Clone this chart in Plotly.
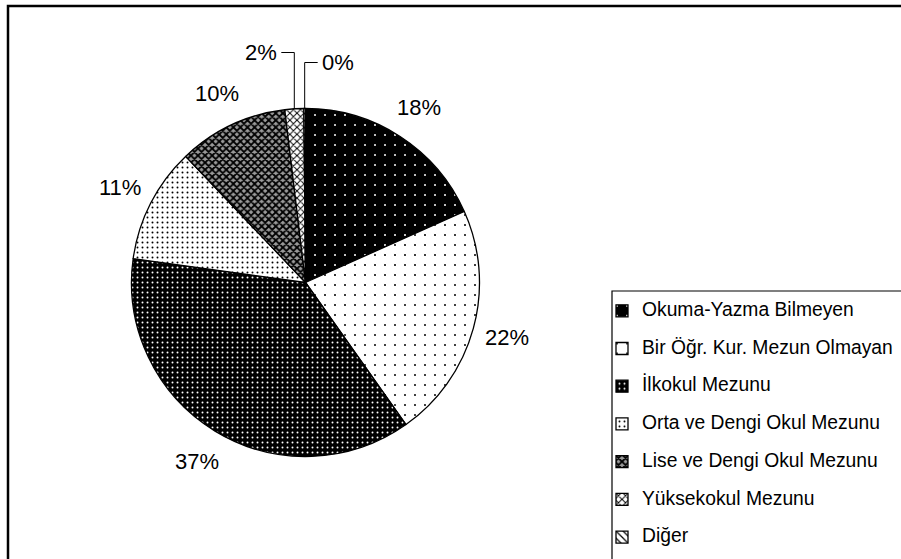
import math
import plotly.graph_objects as go

# ---------------- data ----------------
categories = [
    "Okuma-Yazma Bilmeyen",
    "Bir Öğr. Kur. Mezun Olmayan",
    "İlkokul Mezunu",
    "Orta ve Dengi Okul Mezunu",
    "Lise ve Dengi Okul Mezunu",
    "Yüksekokul Mezunu",
    "Diğer",
]
values = [18.3, 21.9, 37.0, 10.7, 10.2, 1.75, 0.15]

# ---------------- styles ----------------
pat_shape = [".", ".", ".", ".", "x", "x", "\\"]
pat_fg = ["white", "black", "white", "black", "black", "black", "black"]
pat_bg = ["black", "white", "black", "white", "#9a9a9a", "white", "white"]
pat_size = [10, 10, 5, 5, 5, 5, 5]
pat_solid = [0.03, 0.03, 0.12, 0.12, 0.6, 0.35, 0.25]

W, H = 901, 559
CX, CY, R = 305.5, 282.5, 174.0      # pie geometry in pixels
LABEL_GAP = 35                        # distance of labels outside the rim
SMALL = 0.03                          # slices below this get leader lines
ELBOW_RISE = [56, 46]                 # leader heights above the pie for small slices
FONT = "Liberation Sans, Arial, sans-serif"


def px(x):
    return x / W


def py(y):
    return 1 - y / H


total = sum(values)
shares = [v / total for v in values]
pct_text = [f"{round(s * 100)}%" for s in shares]

legend_labels = [f'<span style="font-size:19.3px">{c}</span><br> ' for c in categories]

fig = go.Figure()
fig.add_trace(go.Pie(
    labels=legend_labels,
    values=values,
    sort=False,
    direction="clockwise",
    rotation=0,
    textinfo="none",
    hoverinfo="skip",
    domain=dict(x=[px(CX - R), px(CX + R)], y=[py(CY + R), py(CY - R)]),
    marker=dict(
        line=dict(color="black", width=1.3),
        pattern=dict(shape=pat_shape, fgcolor=pat_fg, bgcolor=pat_bg,
                     size=pat_size, solidity=pat_solid, fillmode="replace"),
    ),
))

annotations = []
shapes = []
cum = 0.0
k_small = 0
for i, s in enumerate(shares):
    theta = 2 * math.pi * (cum + s / 2)
    cum += s
    if s >= SMALL:
        d = R + LABEL_GAP
        x = CX + d * math.sin(theta)
        y = CY - d * math.cos(theta)
        annotations.append(dict(x=px(x), y=py(y), xref="paper", yref="paper",
                                text=pct_text[i], showarrow=False,
                                xanchor="center", yanchor="middle",
                                font=dict(family=FONT, size=22, color="black")))
    else:
        ex = CX + R * math.sin(theta)
        ey = CY - R * math.cos(theta)
        top = CY - R - ELBOW_RISE[min(k_small, len(ELBOW_RISE) - 1)]
        side = -1 if k_small == 0 else 1
        hx = ex + side * 13
        shapes.append(dict(type="path", xref="paper", yref="paper",
                           path=f"M{px(ex)},{py(ey)} L{px(ex)},{py(top)} L{px(hx)},{py(top)}",
                           line=dict(color="black", width=1)))
        annotations.append(dict(x=px(hx + side * 2), y=py(top), xref="paper", yref="paper",
                                text=pct_text[i], showarrow=False,
                                xanchor="right" if side < 0 else "left", yanchor="middle",
                                font=dict(family=FONT, size=22, color="black")))
        k_small += 1

# outer chart frame
shapes.append(dict(type="rect", xref="paper", yref="paper",
                   x0=px(8), y0=py(6), x1=1.2, y1=-0.2,
                   line=dict(color="black", width=2.5)))
# legend frame
shapes.append(dict(type="rect", xref="paper", yref="paper",
                   x0=px(612), y0=py(291), x1=1.2, y1=-0.2,
                   line=dict(color="black", width=1.2)))

fig.update_layout(
    width=W, height=H,
    margin=dict(l=0, r=0, t=0, b=0, autoexpand=False),
    paper_bgcolor="white",
    plot_bgcolor="white",
    showlegend=True,
    legend=dict(x=px(602), y=py(295.6), xanchor="left", yanchor="top",
                font=dict(family=FONT, size=13.35, color="black"),
                bgcolor="rgba(0,0,0,0)", borderwidth=0, valign="top",
                itemclick=False, itemdoubleclick=False),
    annotations=annotations,
    shapes=shapes,
)

fig.write_html(
    "out.html",
    config={"displayModeBar": False},
    post_script="document.body.style.margin='0';document.body.style.overflow='hidden';",
)
